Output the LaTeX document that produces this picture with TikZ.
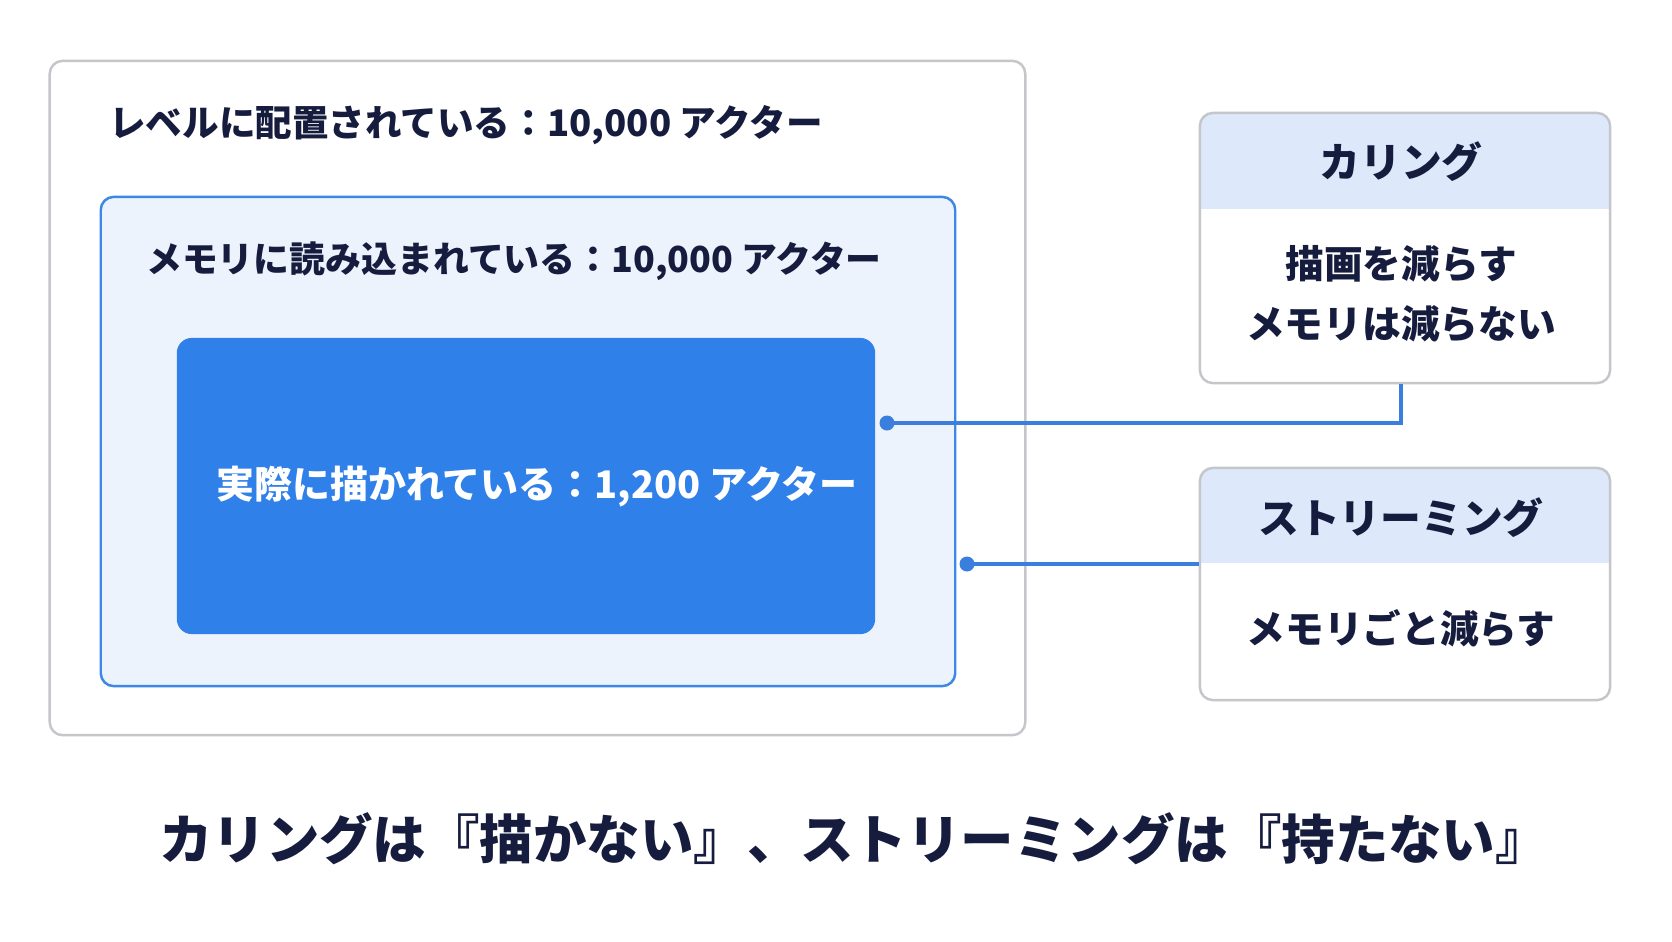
\documentclass[tikz,border=0pt]{standalone}
\usepackage{fontspec}
\setmainfont{Noto Sans CJK JP}
\usepackage{tikz}
\usetikzlibrary{positioning,calc}
\definecolor{ulnavy}{HTML}{161C3D}
\definecolor{ulgray}{HTML}{C4C6CA}
\definecolor{ulpale}{HTML}{EDF3FC}
\definecolor{ulline}{HTML}{3D87E6}
\definecolor{ulblue}{HTML}{2F80E8}
\definecolor{ulhead}{HTML}{DDE9FA}
\definecolor{ullink}{HTML}{3A7FDD}

\begin{document}
\begin{tikzpicture}[x=0.01cm, y=-0.01cm,
    frame/.style={draw=ulgray, line width=0.7pt, rounded corners=0.13cm, fill=white, inner sep=0pt},
    label/.style={font=\fontsize{10.4}{12}\selectfont\bfseries, text=ulnavy, inner sep=0pt},
    sidebox/.style={draw=ulgray, line width=0.7pt, rounded corners=0.13cm, fill=white, inner sep=0pt,
        minimum width=4.1cm, path picture={\fill[ulhead, sharp corners] (path picture bounding box.north west) rectangle ([yshift=-#1]path picture bounding box.north east);}},
    sidetext/.style={font=\fontsize{11}{17}\selectfont\bfseries, text=ulnavy, align=center, inner sep=0pt},
    link/.style={draw=ullink, line width=1pt},
    dot/.style={circle, fill=ullink, inner sep=0pt, minimum size=0.15cm},
]
    \useasboundingbox[fill=white] (0,0) rectangle (1672,941);

    % nested boxes on the left
    \node[frame, minimum width=9.75cm, minimum height=6.74cm] (level) at (537.5,398) {};
    \node[frame, draw=ulline, fill=ulpale, minimum width=8.54cm, minimum height=4.89cm] (memory) at (528,441.5) {};
    \node[draw=none, fill=ulblue, rounded corners=0.15cm, minimum width=6.98cm, minimum height=2.96cm, inner sep=0pt] (drawn) at (526,486) {};

    \node[label] (leveltxt) at (466,125) {レベルに配置されている：10,000 アクター};
    \node[label, font=\fontsize{10.2}{12}\selectfont\bfseries] (memtxt) at (514,261) {メモリに読み込まれている：10,000 アクター};
    \node[label, text=white, font=\fontsize{10.8}{12}\selectfont\bfseries] (drawntxt) at (537,487) {実際に描かれている：1,200 アクター};

    % side notes
    \node[sidebox=0.96cm, minimum height=2.7cm] (culling) at (1405,248) {};
    \node[sidetext, font=\fontsize{11.6}{12}\selectfont\bfseries] (culltitle) at (1401,162) {カリング};
    \node[sidetext] (cullbody) at (1401,294) {描画を減らす\\メモリは減らない};

    \node[sidebox=0.95cm, minimum height=2.32cm] (stream) at (1405,584) {};
    \node[sidetext, font=\fontsize{11.6}{12}\selectfont\bfseries] (streamtitle) at (1401,518) {ストリーミング};
    \node[sidetext] (streambody) at (1401,628) {メモリごと減らす};

    % connectors
    \coordinate (cullpt) at (887,423);
    \coordinate (streampt) at (967,564);
    \draw[link] (cullpt) -| (1401,0 |- culling.south);
    \draw[link] (streampt) -- (streampt -| stream.west);
    \node[dot] at (cullpt) {};
    \node[dot] at (streampt) {};

    \node[label, font=\fontsize{15.2}{18}\selectfont\bfseries] (summary) at (854,839) {カリングは『描かない』、ストリーミングは『持たない』};
\end{tikzpicture}
\end{document}
